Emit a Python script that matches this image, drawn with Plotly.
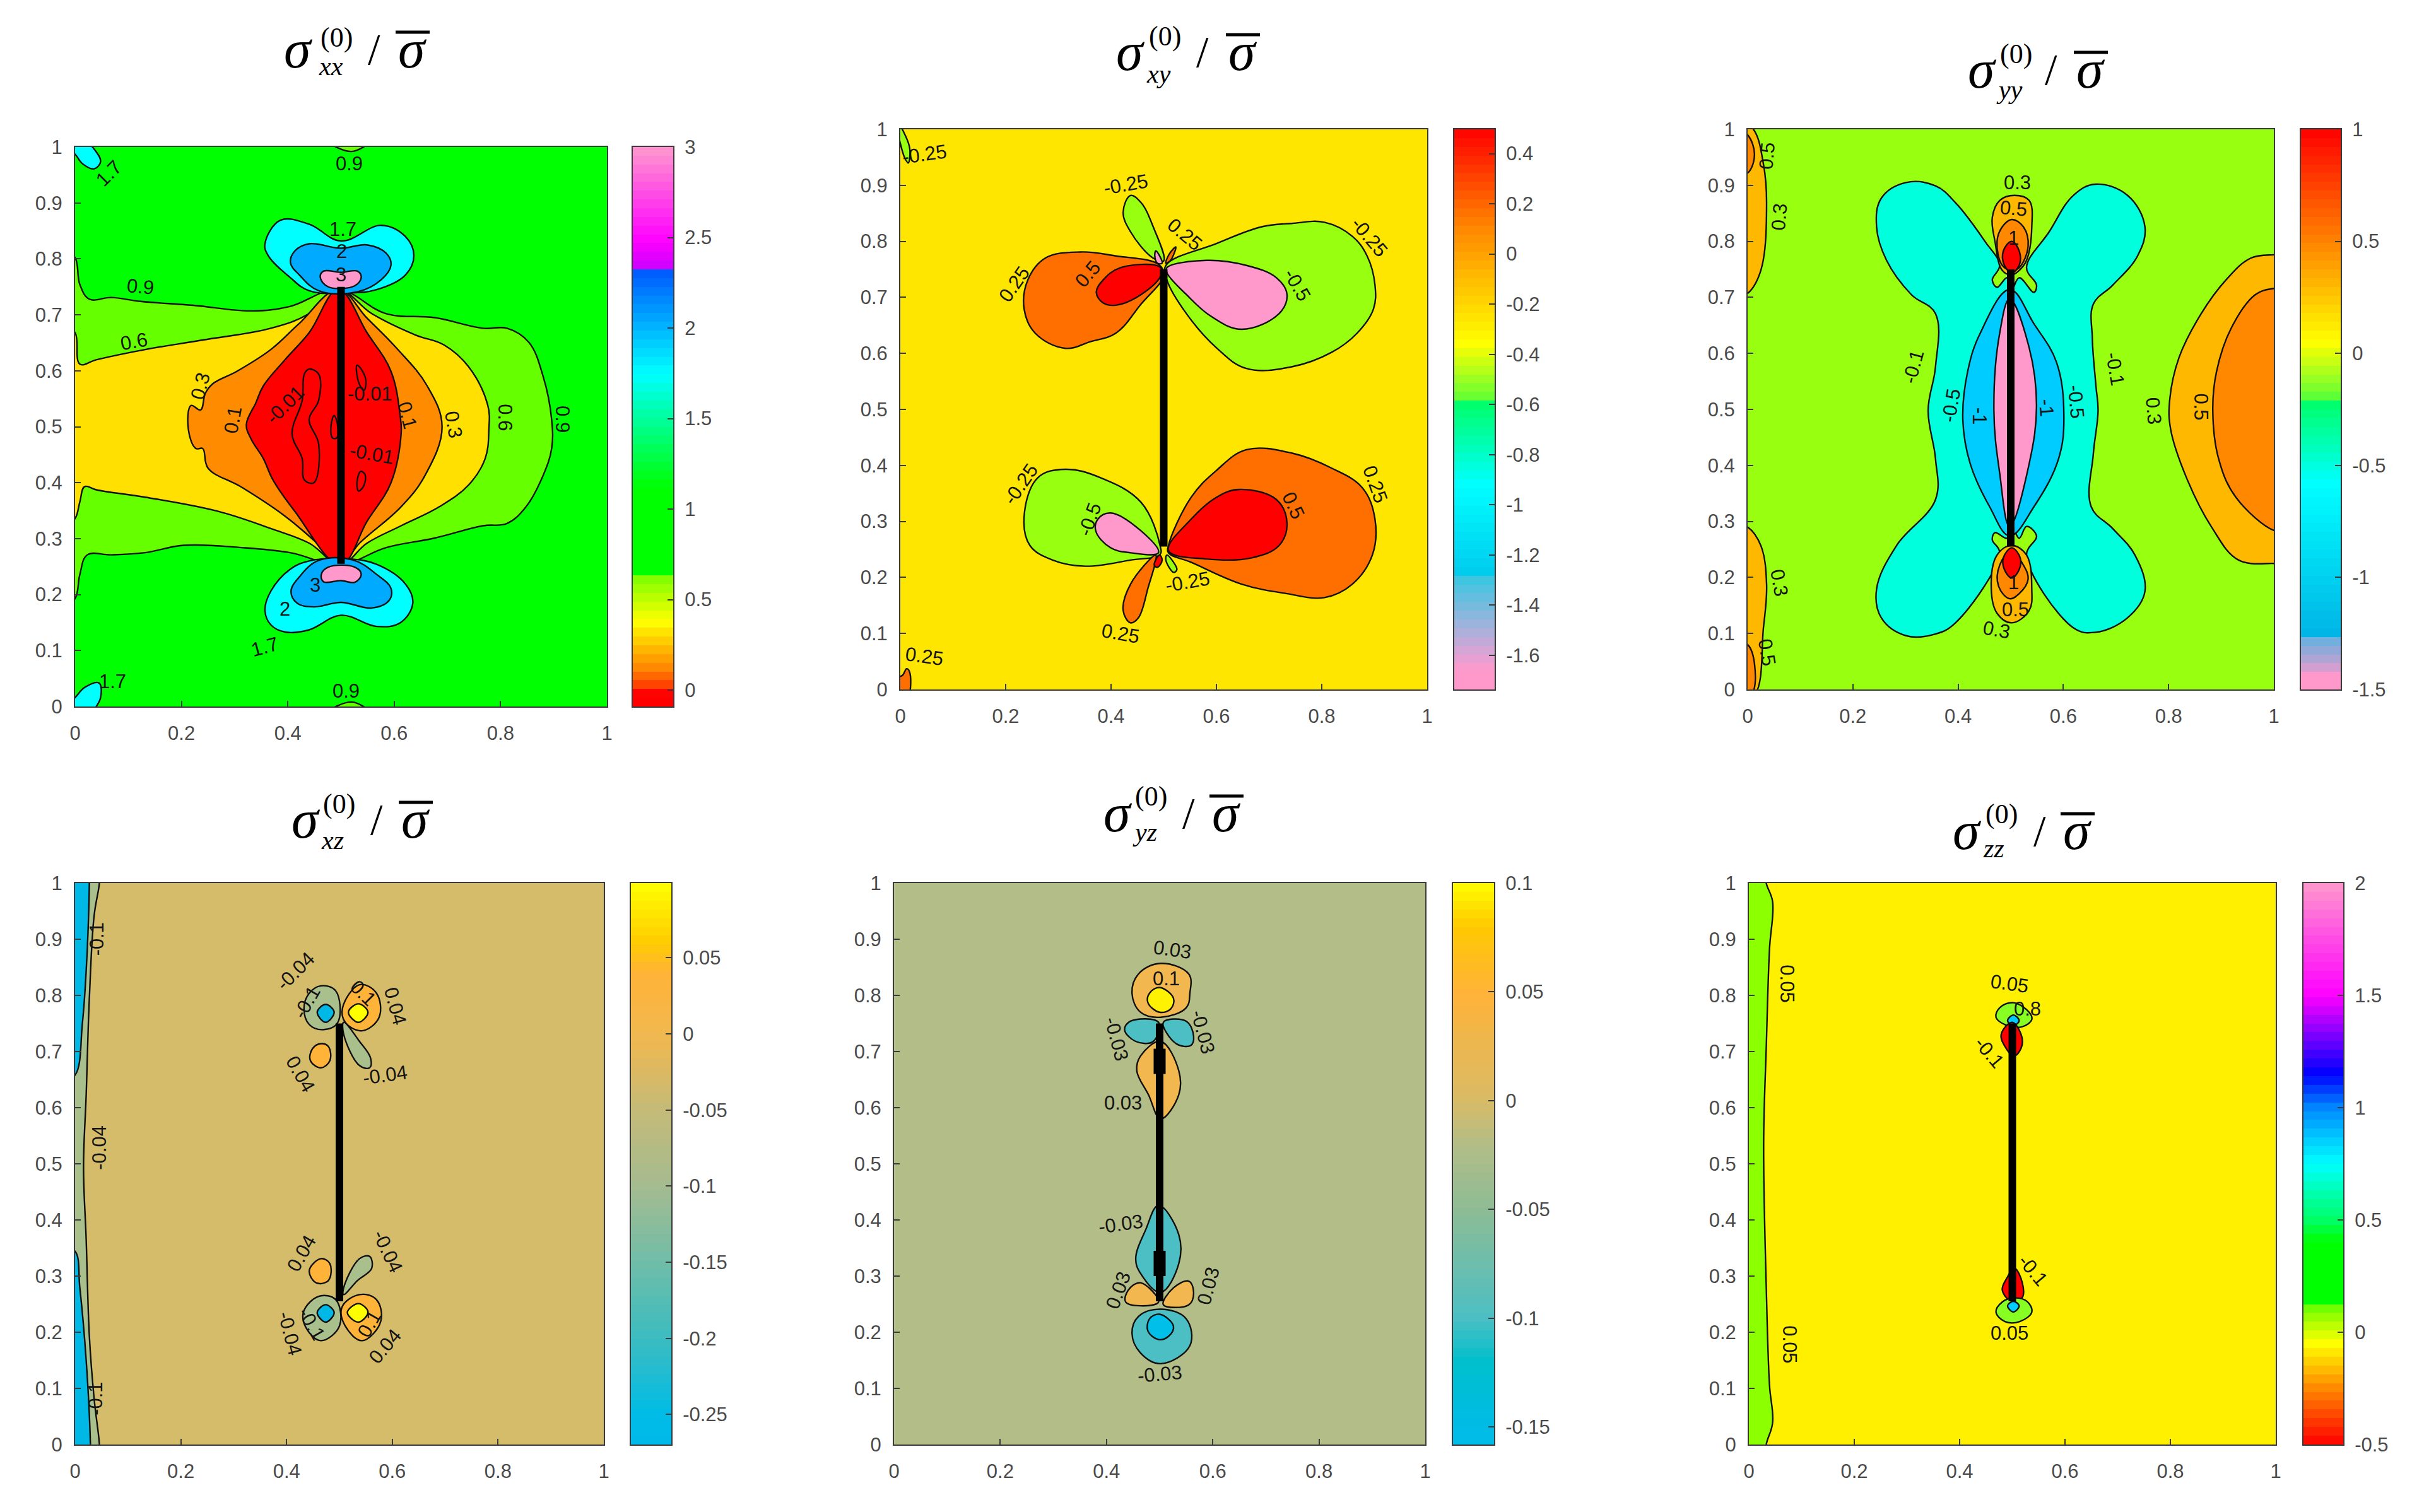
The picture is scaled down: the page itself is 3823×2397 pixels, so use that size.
import plotly.graph_objects as go

W, H = 3823, 2397
BOX = [(-0.02, -0.02), (1.02, -0.02), (1.02, 1.02), (-0.02, 1.02), (-0.02, -0.02)]

# ---------- panel 1: sigma_xx ----------
P1_LIME = [(-.02,.815),(0,.802),(.009,.754),(.027,.728),(.068,.731),(.123,.724),(.222,.717),(.331,.707),(.404,.715),(.495,.745),(.585,.702),(.676,.695),(.767,.676),(.812,.676),(.853,.651),(.880,.590),(.896,.513),(.896,.461),(.880,.413),(.848,.357),(.812,.327),(.767,.323),(.676,.301),(.585,.284),(.499,.254),(.404,.275),(.313,.284),(.204,.288),(.132,.275),(.068,.271),(.023,.271),(.009,.236),(0,.193),(-.02,.18)]
P1_YELLOW = [(-.02,.68),(0,.668),(.009,.612),(.041,.620),(.132,.638),(.240,.655),(.368,.676),(.440,.702),(.495,.745),(.558,.702),(.640,.664),(.694,.646),(.740,.607),(.776,.538),(.778,.495),(.771,.443),(.740,.396),(.685,.357),(.613,.323),(.549,.292),(.499,.254),(.440,.292),(.368,.318),(.268,.349),(.132,.374),(.041,.387),(.018,.393),(.009,.366),(0,.336),(-.02,.32)]
P1_ORANGE = [(.495,.745),(.422,.685),(.368,.638),(.304,.599),(.259,.577),(.245,.560),(.236,.530),(.218,.538),(.213,.495),(.227,.461),(.240,.461),(.250,.426),(.313,.392),(.395,.340),(.449,.297),(.499,.254),(.535,.292),(.613,.357),(.658,.413),(.690,.500),(.662,.573),(.603,.642),(.549,.694),(.495,.745)]
P1_RED = [(.495,.745),(.440,.668),(.395,.620),(.354,.573),(.340,.543),(.322,.504),(.331,.478),(.354,.443),(.372,.405),(.413,.349),(.499,.254),(.549,.331),(.594,.400),(.613,.487),(.611,.521),(.594,.599),(.549,.668),(.495,.745)]
P1_IN_A = [(.440,.603),(.458,.594),(.458,.547),(.440,.513),(.458,.469),(.449,.400),(.431,.405),(.427,.443),(.408,.487),(.427,.547),(.431,.594),(.440,.603)]
P1_IN_B = [(.530,.61),(.540,.60),(.547,.58),(.543,.565),(.533,.58),(.530,.61)]
P1_IN_C = [(.533,.385),(.543,.395),(.545,.415),(.537,.42),(.530,.40),(.533,.385)]
P1_IN_D = [(.487,.52),(.494,.5),(.492,.48),(.484,.48),(.481,.5),(.487,.52)]
P1_CY_T = [(.386,.869),(.440,.862),(.500,.832),(.576,.860),(.621,.840),(.637,.806),(.621,.771),(.567,.745),(.513,.739),(.440,.743),(.404,.767),(.363,.806),(.357,.827),(.386,.869)]
P1_BL_T = [(.440,.827),(.500,.819),(.549,.825),(.585,.810),(.594,.789),(.576,.763),(.531,.741),(.458,.743),(.422,.771),(.405,.793),(.413,.814),(.440,.827)]
P1_PK_T = [(.467,.778),(.500,.776),(.531,.778),(.538,.767),(.526,.752),(.476,.750),(.461,.767),(.467,.778)]
P1_CY_B = [(.440,.260),(.404,.245),(.368,.206),(.357,.172),(.368,.146),(.395,.133),(.440,.137),(.500,.163),(.567,.143),(.612,.150),(.635,.185),(.621,.219),(.567,.254),(.513,.264),(.440,.260)]
P1_BL_B = [(.458,.261),(.422,.232),(.406,.206),(.417,.185),(.449,.178),(.500,.186),(.558,.176),(.590,.189),(.594,.211),(.567,.236),(.522,.262),(.458,.261)]
P1_PK_B = [(.476,.249),(.463,.236),(.467,.223),(.500,.225),(.526,.222),(.538,.236),(.526,.249),(.476,.249)]
P1_CORNER_T = [(-.02,1.02),(.009,1.02),(.036,.996),(.048,.974),(.036,.961),(.014,.970),(0,.987),(-.02,1.0),(-.02,1.02)]
P1_CORNER_B = [(-.02,.0),(0,.016),(.018,.034),(.045,.042),(.048,.016),(.036,-.005),(.02,-.02),(-.02,-.02),(-.02,.0)]
P1_LENS_T = [(.476,1.01),(.52,.992),(.553,1.01),(.476,1.01)]
P1_LENS_B = [(.476,-.01),(.52,.008),(.553,-.01),(.476,-.01)]
P1_REGIONS = [(P1_LIME,"#66ff00"),(P1_YELLOW,"#ffe000"),(P1_ORANGE,"#ff8c00"),(P1_RED,"#ff0000"),(P1_IN_A,"#ff0000"),(P1_IN_B,"#ff0000"),(P1_IN_C,"#ff0000"),(P1_IN_D,"#ff0000"),
              (P1_CY_T,"#00ffff"),(P1_BL_T,"#00aaff"),(P1_PK_T,"#ff99cc"),(P1_CY_B,"#00ffff"),(P1_BL_B,"#00aaff"),(P1_PK_B,"#ff99cc"),(P1_CORNER_T,"#00ffff"),(P1_CORNER_B,"#00ffff"),(P1_LENS_T,"#66ff00"),(P1_LENS_B,"#66ff00")]
P1_LABELS = [("1.7",.064,.953,-45),("0.9",.515,.970,0),("1.7",.504,.853,0),("2",.501,.813,0),("3",.500,.772,0),("0.9",.123,.750,5),("0.6",.111,.652,-10),("0.3",.236,.573,-75),("0.1",.297,.512,-80),("-0.01",.395,.540,-45),("-0.01",.555,.559,0),("-0.01",.558,.452,10),("0.1",.624,.521,75),("0.3",.711,.504,80),("0.6",.808,.517,90),("0.9",.917,.514,90),("3",.451,.217,0),("2",.395,.174,0),("1.7",.357,.107,-15),("1.7",.070,.044,0),("0.9",.510,.028,0)]

# ---------- panel 2: sigma_xy ----------
P2_LIME_R = [(.504,.757),(.600,.796),(.686,.826),(.743,.832),(.805,.834),(.858,.809),(.886,.774),(.901,.722),(.898,.679),(.867,.636),(.819,.602),(.743,.576),(.657,.573),(.600,.610),(.543,.671),(.506,.731),(.504,.757)]
P2_PINK_R = [(.506,.753),(.581,.766),(.657,.757),(.714,.735),(.734,.705),(.719,.671),(.648,.643),(.590,.666),(.543,.705),(.506,.744),(.506,.753)]
P2_OR_L = [(.490,.759),(.409,.774),(.342,.781),(.275,.770),(.242,.731),(.235,.679),(.256,.636),(.313,.609),(.361,.621),(.409,.636),(.457,.688),(.500,.740),(.490,.759)]
P2_RED_L = [(.493,.754),(.418,.753),(.385,.731),(.372,.709),(.385,.690),(.409,.686),(.457,.705),(.495,.740),(.493,.754)]
P2_LOBE_T = [(.437,.882),(.457,.869),(.480,.826),(.500,.765),(.480,.770),(.437,.817),(.423,.852),(.437,.882)]
P2_TINY_P = [(.485,.783),(.497,.761),(.488,.761),(.483,.774),(.485,.783)]
P2_TINY_O = [(.523,.790),(.513,.766),(.504,.761),(.511,.778),(.523,.790)]
P2_OR_R = [(.509,.257),(.552,.343),(.600,.391),(.657,.428),(.743,.422),(.819,.395),(.877,.360),(.901,.304),(.896,.240),(.858,.188),(.805,.164),(.734,.171),(.648,.188),(.552,.227),(.509,.244),(.509,.257)]
P2_RED_R = [(.509,.248),(.552,.304),(.600,.343),(.643,.357),(.714,.339),(.734,.296),(.719,.257),(.667,.235),(.581,.233),(.509,.248)]
P2_LIME_L = [(.493,.257),(.457,.334),(.380,.378),(.313,.393),(.261,.378),(.235,.309),(.246,.257),(.289,.231),(.351,.220),(.437,.231),(.493,.241),(.493,.257)]
P2_PINK_L = [(.490,.244),(.457,.283),(.399,.315),(.375,.304),(.371,.283),(.399,.253),(.437,.244),(.490,.244)]
P2_LOBE_B = [(.485,.231),(.471,.184),(.452,.128),(.437,.119),(.423,.141),(.437,.188),(.485,.240),(.485,.231)]
P2_TINY_R = [(.492,.240),(.497,.231),(.488,.218),(.482,.222),(.492,.240)]
P2_TINY_L = [(.506,.240),(.525,.214),(.519,.209),(.504,.231),(.506,.240)]
P2_CORNER_T = [(-.01,1.02),(.009,.99),(.018,.965),(.015,.94),(.008,.95),(0,.975),(-.01,1.02)]
P2_CORNER_B = [(-.01,-.02),(.012,-.02),(.018,.03),(.012,.037),(.004,.025),(-.01,.02),(-.01,-.02)]
P2_REGIONS = [(P2_LIME_R,"#99ff11"),(P2_PINK_R,"#ff99cc"),(P2_OR_L,"#ff6f00"),(P2_RED_L,"#ff0000"),(P2_LOBE_T,"#99ff11"),(P2_TINY_P,"#ff99cc"),(P2_TINY_O,"#ff6f00"),
              (P2_OR_R,"#ff6f00"),(P2_RED_R,"#ff0000"),(P2_LIME_L,"#99ff11"),(P2_PINK_L,"#ff99cc"),(P2_LOBE_B,"#ff6f00"),(P2_TINY_R,"#ff0000"),(P2_TINY_L,"#99ff11"),(P2_CORNER_T,"#99ff11"),(P2_CORNER_B,"#ff6f00")]
P2_LABELS = [("-0.25",.046,.955,-8),("-0.25",.428,.902,-10),("0.25",.540,.813,40),("-0.25",.891,.807,50),("0.25",.216,.724,-55),("0.5",.356,.741,-50),("-0.5",.753,.722,60),("-0.25",.229,.366,-55),("-0.5",.359,.304,-70),("0.25",.901,.366,70),("0.5",.746,.328,65),("-0.25",.545,.192,-10),("0.25",.418,.100,10),("0.25",.046,.059,8)]

# ---------- panel 3: sigma_yy ----------
P3_OR_R = [(1.02,.776),(1,.776),(.956,.770),(.909,.731),(.862,.671),(.820,.593),(.802,.516),(.804,.464),(.834,.378),(.881,.291),(.933,.231),(1,.225),(1.02,.225),(1.02,.776)]
P3_DK_R = [(1.02,.716),(1,.716),(.965,.705),(.919,.645),(.891,.567),(.884,.498),(.895,.412),(.928,.343),(1,.284),(1.02,.284),(1.02,.716)]
P3_OR_TL = [(-.02,1.02),(.011,1.0),(.030,.938),(.036,.869),(.025,.748),(0,.707),(-.02,.70),(-.02,1.02)]
P3_DK_TL = [(-.02,1.0),(0,.99),(.013,.955),(0,.922),(-.02,.92),(-.02,1.0)]
P3_OR_BL = [(-.02,.295),(0,.290),(.025,.257),(.036,.188),(.030,.110),(.013,-.01),(-.02,-.02),(-.02,.295)]
P3_DK_BL = [(-.02,.085),(0,.080),(.013,.046),(.007,-.01),(-.02,-.02),(-.02,.085)]
P3_WING = [(.301,.905),(.357,.899),(.395,.869),(.451,.800),(.479,.757),(.465,.731),(.474,.718),(.493,.735),(.502,.714),(.516,.735),(.544,.709),(.549,.722),(.530,.753),(.573,.817),(.619,.882),(.661,.902),(.722,.882),(.755,.826),(.741,.774),(.694,.722),(.657,.688),(.655,.628),(.662,.541),(.666,.498),(.657,.421),(.653,.326),(.694,.287),(.736,.240),(.755,.175),(.722,.128),(.661,.102),(.619,.110),(.530,.240),(.549,.274),(.530,.291),(.516,.270),(.502,.291),(.493,.270),(.470,.280),(.465,.267),(.479,.244),(.395,.119),(.357,.099),(.301,.096),(.254,.128),(.245,.179),(.283,.257),(.357,.339),(.357,.412),(.343,.498),(.357,.576),(.357,.671),(.311,.705),(.264,.766),(.245,.826),(.254,.877),(.301,.905)]
P3_BLUE = [(.498,.714),(.442,.636),(.418,.567),(.409,.481),(.423,.403),(.460,.326),(.498,.274),(.544,.326),(.591,.412),(.601,.490),(.587,.584),(.544,.653),(.498,.714)]
P3_PINK = [(.498,.697),(.479,.636),(.468,.498),(.479,.386),(.498,.291),(.535,.403),(.549,.507),(.535,.610),(.498,.697)]
P3_T_OR = [(.507,.882),(.535,.873),(.540,.826),(.530,.766),(.516,.748),(.502,.740),(.484,.748),(.470,.800),(.465,.843),(.479,.873),(.507,.882)]
P3_T_DK = [(.502,.839),(.524,.826),(.533,.791),(.516,.753),(.502,.748),(.484,.757),(.474,.800),(.484,.826),(.502,.839)]
P3_T_RED = [(.502,.800),(.516,.783),(.516,.757),(.502,.744),(.488,.757),(.486,.783),(.502,.800)]
P3_B_OR = [(.502,.257),(.530,.240),(.540,.179),(.535,.141),(.502,.119),(.474,.136),(.463,.179),(.474,.240),(.502,.257)]
P3_B_DK = [(.502,.248),(.521,.227),(.533,.197),(.516,.171),(.498,.162),(.477,.184),(.479,.222),(.502,.248)]
P3_B_RED = [(.502,.253),(.518,.235),(.516,.214),(.502,.199),(.488,.214),(.486,.235),(.502,.253)]
P3_REGIONS = [(P3_OR_R,"#ffb800"),(P3_DK_R,"#ff8800"),(P3_OR_TL,"#ffb800"),(P3_DK_TL,"#ff8800"),(P3_OR_BL,"#ffb800"),(P3_DK_BL,"#ff8800"),(P3_WING,"#00ffdd"),(P3_BLUE,"#00ccff"),(P3_PINK,"#ff99cc"),
              (P3_T_OR,"#ffb800"),(P3_T_DK,"#ff8800"),(P3_T_RED,"#ff0000"),(P3_B_OR,"#ffb800"),(P3_B_DK,"#ff8800"),(P3_B_RED,"#ff0000")]
P3_LABELS = [("0.5",.037,.953,-85),("0.3",.060,.843,-85),("0.3",.512,.905,0),("0.5",.505,.859,5),("1",.505,.806,0),("-0.1",.315,.576,-75),("-0.5",.387,.507,-80),("-1",.440,.488,90),("-1",.568,.503,85),("-0.5",.624,.514,85),("-0.1",.699,.572,80),("0.3",.771,.498,85),("0.5",.861,.505,90),("0.3",.060,.191,80),("0.5",.037,.066,80),("1",.505,.191,0),("0.5",.509,.143,0),("0.3",.473,.106,10)]

# ---------- panel 4: sigma_xz ----------
P4_STRIP = [(.046,1.02),(.046,1),(.036,.942),(.027,.795),(.021,.623),(.016,.494),(.021,.365),(.027,.193),(.036,.082),(.046,0),(.046,-.02),(-.02,-.02),(-.02,1.02),(.046,1.02)]
P4_BLUE_T = [(.027,1.02),(.027,1),(.023,.881),(.014,.752),(0,.658),(-.02,.65),(-.02,1.02),(.027,1.02)]
P4_BLUE_B = [(-.02,.35),(0,.344),(.009,.279),(.021,.150),(.029,0),(.029,-.02),(-.02,-.02),(-.02,.35)]
P4_G1 = [(.465,.817),(.493,.808),(.497,.752),(.470,.739),(.443,.748),(.433,.778),(.443,.804),(.465,.817)]
P4_B1 = [(.474,.784),(.490,.770),(.474,.752),(.458,.770),(.474,.784)]
P4_O1 = [(.538,.819),(.570,.804),(.575,.761),(.543,.737),(.511,.752),(.506,.778),(.538,.819)]
P4_Y1 = [(.536,.785),(.554,.770),(.536,.752),(.517,.770),(.536,.785)]
P4_O2 = [(.465,.714),(.479,.709),(.482,.684),(.465,.671),(.445,.684),(.449,.705),(.465,.714)]
P4_G2 = [(.508,.752),(.538,.718),(.559,.688),(.557,.671),(.538,.675),(.508,.731),(.508,.752)]
P4_O3 = [(.465,.331),(.482,.322),(.479,.292),(.456,.288),(.443,.310),(.465,.331)]
P4_G3 = [(.508,.279),(.538,.331),(.557,.335),(.561,.314),(.534,.292),(.508,.267),(.508,.279)]
P4_G4 = [(.461,.264),(.493,.258),(.500,.211),(.465,.185),(.438,.206),(.432,.236),(.461,.264)]
P4_B4 = [(.474,.249),(.490,.235),(.474,.218),(.458,.235),(.474,.249)]
P4_O4 = [(.538,.267),(.570,.258),(.578,.219),(.543,.185),(.511,.211),(.505,.245),(.538,.267)]
P4_Y4 = [(.536,.251),(.554,.236),(.536,.218),(.515,.235),(.536,.251)]
P4_REGIONS = [(P4_STRIP,"#a9bf8c"),(P4_BLUE_T,"#00b8e6"),(P4_BLUE_B,"#00b8e6"),(P4_G1,"#a9bf8c"),(P4_B1,"#00b8e6"),(P4_O1,"#ffb338"),(P4_Y1,"#ffff00"),(P4_O2,"#ffb338"),(P4_G2,"#a9bf8c"),(P4_O3,"#ffb338"),(P4_G3,"#a9bf8c"),(P4_G4,"#a9bf8c"),(P4_B4,"#00b8e6"),(P4_O4,"#ffb338"),(P4_Y4,"#ffff00")]
P4_LABELS = [("-0.1",.041,.900,-90),("-0.04",.046,.529,-90),("-0.1",.038,.082,-90),("-0.04",.417,.843,-45),("-0.1",.438,.787,-60),("0.1",.545,.804,45),("0.04",.605,.781,75),("0.04",.426,.660,60),("-0.04",.586,.658,-8),("0.04",.428,.340,-60),("-0.04",.591,.344,65),("-0.1",.447,.215,60),("0.1",.557,.215,-60),("-0.04",.406,.198,75),("0.04",.586,.175,-50)]

# ---------- panel 5: sigma_yz ----------
P5_O_T = [(.502,.857),(.555,.838),(.557,.804),(.550,.778),(.502,.761),(.464,.770),(.448,.804),(.460,.838),(.502,.857)]
P5_Y_T = [(.500,.814),(.526,.795),(.521,.776),(.500,.770),(.478,.787),(.481,.804),(.500,.814)]
P5_T_L = [(.498,.752),(.488,.718),(.455,.718),(.434,.739),(.445,.754),(.498,.752)]
P5_T_R = [(.507,.752),(.550,.754),(.564,.727),(.559,.711),(.531,.714),(.507,.752)]
P5_O_LENS = [(.502,.718),(.536,.666),(.536,.623),(.502,.580),(.479,.623),(.457,.666),(.464,.692),(.502,.718)]
P5_T_LENS = [(.498,.426),(.536,.374),(.536,.322),(.502,.271),(.464,.305),(.455,.331),(.474,.383),(.498,.426)]
P5_O_L = [(.464,.288),(.498,.254),(.464,.247),(.436,.254),(.441,.275),(.464,.288)]
P5_O_R = [(.555,.291),(.564,.271),(.555,.249),(.507,.249),(.526,.279),(.555,.291)]
P5_T_B = [(.502,.241),(.550,.224),(.557,.176),(.502,.144),(.464,.163),(.448,.198),(.460,.228),(.502,.241)]
P5_B_B = [(.500,.232),(.526,.211),(.517,.193),(.498,.187),(.478,.202),(.481,.224),(.500,.232)]
P5_REGIONS = [(P5_O_T,"#f2b74e"),(P5_Y_T,"#fff200"),(P5_T_L,"#4cbfc4"),(P5_T_R,"#4cbfc4"),(P5_O_LENS,"#f2b74e"),(P5_T_LENS,"#4cbfc4"),(P5_O_L,"#f2b74e"),(P5_O_R,"#f2b74e"),(P5_T_B,"#4cbfc4"),(P5_B_B,"#00bfe8")]
P5_LABELS = [("0.03",.524,.881,8),("0.1",.512,.830,0),("-0.03",.419,.722,75),("-0.03",.581,.735,75),("0.03",.431,.608,0),("-0.03",.427,.393,-8),("0.03",.422,.275,-70),("0.03",.591,.282,-75),("-0.03",.500,.125,-5)]
P5_KNOT_UP = [.66,.705]
P5_KNOT_LO = [.30,.345]

# ---------- panel 6: sigma_zz ----------
P6_STRIP = [(.033,1.02),(.033,1),(.045,.967),(.039,.881),(.033,.709),(.028,.537),(.033,.279),(.039,.107),(.045,.039),(.033,0),(.033,-.02),(-.02,-.02),(-.02,1.02),(.033,1.02)]
P6_G_T = [(.502,.787),(.532,.770),(.537,.757),(.518,.744),(.486,.748),(.469,.761),(.476,.778),(.502,.787)]
P6_C_T = [(.502,.765),(.513,.755),(.502,.746),(.491,.755),(.502,.765)]
P6_R_T = [(.500,.752),(.519,.722),(.514,.701),(.503,.692),(.486,.709),(.479,.731),(.500,.752)]
P6_R_B = [(.504,.314),(.519,.288),(.519,.262),(.500,.254),(.481,.275),(.490,.297),(.504,.314)]
P6_G_B = [(.502,.261),(.528,.255),(.537,.236),(.514,.219),(.486,.219),(.469,.236),(.481,.254),(.502,.261)]
P6_C_B = [(.502,.255),(.513,.247),(.502,.236),(.491,.247),(.502,.255)]
P6_REGIONS = [(P6_STRIP,"#8cff00"),(P6_G_T,"#88ff22"),(P6_C_T,"#00ccff"),(P6_R_T,"#ff0000"),(P6_R_B,"#ff0000"),(P6_G_B,"#88ff22"),(P6_C_B,"#00ccff")]
P6_LABELS = [("0.05",.073,.821,90),("0.05",.077,.178,90),("0.05",.495,.821,8),("0.8",.529,.776,0),("-0.1",.456,.698,50),("-0.1",.539,.311,50),("0.05",.495,.198,0)]

# ---------- colour bars: value, colour stops ----------
CB1_STOPS = [(-.09,"#ff0000"),(-.02,"#ff0000"),(.03,"#ff4400"),(.126,"#ff8800"),(.378,"#ffff00"),(.609,"#88ff00"),(.651,"#00ff00"),(1.113,"#00ff00"),(1.744,"#00ffff"),(2.33,"#0055ff"),(2.335,"#cc00ff"),(2.48,"#ff00ff"),(3,"#ff99cc")]
CB2_STOPS = [(-1.736,"#ff99cc"),(-1.66,"#ff99cc"),(-1.5,"#aab0dd"),(-1.28,"#33c8e0"),(-1.27,"#00ccee"),(-.92,"#00ffff"),(-.59,"#00ff66"),(-.574,"#66ff33"),(-.357,"#ffff00"),(.1,"#ff8800"),(.497,"#ff0000")]
CB3_STOPS = [(-1.5,"#ff99cc"),(-1.42,"#ff99cc"),(-1.4,"#cca0d0"),(-1.27,"#66b0e0"),(-1.26,"#00b4e6"),(-.58,"#00ffff"),(-.21,"#00ff66"),(-.19,"#66ff33"),(.05,"#ffff00"),(.48,"#ff8800"),(1,"#ff0000")]
CB4_STOPS = [(-.2697,"#00b8e8"),(-.25,"#00bce6"),(-.2,"#3cbcc0"),(-.15,"#70bda8"),(-.1,"#a5bb90"),(-.05,"#c4bb78"),(0,"#f2b84e"),(.04,"#ffb338"),(.06,"#ffcc00"),(.099,"#ffff00")]
CB5_STOPS = [(-.158,"#00bce6"),(-.15,"#00bce6"),(-.12,"#00bfcc"),(-.1,"#4cbfc4"),(-.05,"#8ebc95"),(-.02,"#b3bd87"),(0,"#d9bb66"),(.05,"#ffb338"),(.08,"#ffc800"),(.1,"#ffff00")]
CB6_STOPS = [(-.5,"#ff0000"),(-.25,"#ff8800"),(-.05,"#ffff00"),(.05,"#aaff00"),(.115,"#66ff00"),(.13,"#00ff00"),(.4,"#00ff00"),(.5,"#00ff66"),(.75,"#00ffff"),(1.0,"#0088ff"),(1.15,"#0000ff"),(1.5,"#ff00ff"),(2,"#ff99cc")]
CB1_TICKS = [0,.5,1,1.5,2,2.5,3]
CB2_TICKS = [.4,.2,0,-.2,-.4,-.6,-.8,-1,-1.2,-1.4,-1.6]
CB3_TICKS = [1,.5,0,-.5,-1,-1.5]
CB4_TICKS = [.05,0,-.05,-.1,-.15,-.2,-.25]
CB5_TICKS = [.1,.05,0,-.05,-.1,-.15]
CB6_TICKS = [2,1.5,1,.5,0,-.5]

# ---------- tick labels ----------
X_TICKS = [0,.2,.4,.6,.8,1]
Y_TICKS = [0,.1,.2,.3,.4,.5,.6,.7,.8,.9,1]

# ---------- layout in reference pixels ----------
PANELS = [
  dict(r=P1_REGIONS,l=P1_LABELS,bg="#00ff00",box=(119,962,233,1120),cb=(1003,1067),stops=CB1_STOPS,ct=CB1_TICKS,knots=[],
       tt=("xx",(473,78),(533,59),(524,105),(593,78),(654,78))),
  dict(r=P2_REGIONS,l=P2_LABELS,bg="#ffe600",box=(1427,2262,205,1093),cb=(2305,2369),stops=CB2_STOPS,ct=CB2_TICKS,knots=[],
       tt=("xy",(1792,82),(1846,58),(1836,117),(1906,82),(1970,82))),
  dict(r=P3_REGIONS,l=P3_LABELS,bg="#99ff11",box=(2770,3604,205,1093),cb=(3647,3710),stops=CB3_STOPS,ct=CB3_TICKS,knots=[],
       tt=("yy",(3142,110),(3195,85),(3185,142),(3251,110),(3314,110))),
  dict(r=P4_REGIONS,l=P4_LABELS,bg="#d4bc6a",box=(119,957,1400,2290),cb=(1000,1064),stops=CB4_STOPS,ct=CB4_TICKS,knots=[],
       tt=("xz",(485,1299),(537,1274),(527,1332),(597,1299),(659,1299))),
  dict(r=P5_REGIONS,l=P5_LABELS,bg="#b3bd87",box=(1417,2259,1400,2290),cb=(2303,2368),stops=CB5_STOPS,ct=CB5_TICKS,knots=[P5_KNOT_UP,P5_KNOT_LO],
       tt=("yz",(1772,1289),(1824,1262),(1814,1319),(1884,1289),(1944,1289))),
  dict(r=P6_REGIONS,l=P6_LABELS,bg="#fff000",box=(2772,3607,1400,2290),cb=(3651,3714),stops=CB6_STOPS,ct=CB6_TICKS,knots=[],
       tt=("zz",(3118,1317),(3172,1291),(3160,1345),(3233,1317),(3293,1317))),
]
CRACK_Y = [.255,.75]
CRACK_X = [.5,.5]
LEVELS = 64

fig = go.Figure()
layout = {}
ann = []
shapes = []
TICK = "#4a4a4a"
LINE = "#3a3a3a"
def fmt(v):
    return f"{v:g}"

def axis(domain, **kw):
    d = dict(domain=domain, showgrid=False, zeroline=False, showline=True, linecolor=LINE, linewidth=2,
             mirror=True, ticks="inside", ticklen=9, tickwidth=2, tickcolor=LINE,
             tickfont=dict(family="Liberation Sans", size=31, color=TICK))
    d.update(kw)
    return d

for i, p in enumerate(PANELS):
    xa, ya = 2*i+1, 2*i+2
    cx, cy = 2*i+13, 2*i+14
    x0, x1, y0, y1 = p["box"]
    xn, yn = f"x{xa}", f"y{ya}"
    xdom = [x0/W, x1/W]
    ydom = [1-y1/H, 1-y0/H]
    layout[f"xaxis{xa}"] = axis(xdom, anchor=yn, range=[0,1], tickvals=X_TICKS, ticktext=[fmt(v) for v in X_TICKS], ticklabelstandoff=14)
    layout[f"yaxis{ya}"] = axis(ydom, anchor=xn, range=[0,1], tickvals=Y_TICKS, ticktext=[fmt(v) for v in Y_TICKS], ticklabelstandoff=12)
    xs, ys = zip(*BOX)
    fig.add_trace(go.Scatter(x=xs, y=ys, mode="lines", fill="toself", fillcolor=p["bg"], line=dict(width=0, color=p["bg"]), xaxis=xn, yaxis=yn, hoverinfo="skip", showlegend=False))
    for pts, col in p["r"]:
        xs, ys = zip(*pts)
        fig.add_trace(go.Scatter(x=xs, y=ys, mode="lines", fill="toself", fillcolor=col,
                                 line=dict(color="#101010", width=2.4, shape="spline", smoothing=1.1),
                                 xaxis=xn, yaxis=yn, hoverinfo="skip", showlegend=False))
    fig.add_trace(go.Scatter(x=CRACK_X, y=CRACK_Y, mode="lines", line=dict(color="#000000", width=12), xaxis=xn, yaxis=yn, hoverinfo="skip", showlegend=False))
    for knot in p["knots"]:
        fig.add_trace(go.Scatter(x=CRACK_X, y=knot, mode="lines", line=dict(color="#000000", width=19), xaxis=xn, yaxis=yn, hoverinfo="skip", showlegend=False))
    for txt, lx, ly, rot in p["l"]:
        ann.append(dict(text=txt, x=lx, y=ly, xref=xn, yref=yn, showarrow=False, textangle=rot,
                        font=dict(family="Liberation Sans", size=31, color="#141414")))
    # colour bar
    vals, cols = zip(*p["stops"])
    lo, hi = vals[0], vals[-1]
    scale = [[(v-lo)/(hi-lo), c] for v, c in p["stops"]]
    lv = [lo+(hi-lo)*(k+.5)/LEVELS for k in range(LEVELS)]
    fig.add_trace(go.Heatmap(x=[0], y=lv, z=[[v] for v in lv], zmin=lo, zmax=hi, colorscale=scale, showscale=False,
                             xaxis=f"x{cx}", yaxis=f"y{cy}", hoverinfo="skip"))
    c0, c1 = p["cb"]
    layout[f"xaxis{cx}"] = axis([c0/W, c1/W], anchor=f"y{cy}", range=[-.5,.5], showticklabels=False, ticks="")
    layout[f"yaxis{cy}"] = axis(ydom, anchor=f"x{cx}", side="right", range=[lo,hi], tickvals=p["ct"], ticktext=[fmt(v) for v in p["ct"]], ticklabelstandoff=10)
    # title
    sub, s, z, q, sl, b = p["tt"]
    def t(text, pos, size, italic=False):
        ann.append(dict(text=(f"<i>{text}</i>" if italic else text), x=pos[0]/W, y=1-pos[1]/H, xref="paper", yref="paper", showarrow=False,
                        xanchor="center", yanchor="middle", font=dict(family="Liberation Serif", size=size, color="#000000")))
    t("σ", s, 86, True)
    t("(0)", z, 44)
    t(sub, q, 42, True)
    t("/", sl, 70)
    t("σ", b, 86, True)
    shapes.append(dict(type="line", xref="paper", yref="paper", x0=(b[0]-27)/W, x1=(b[0]+27)/W, y0=1-(b[1]-27)/H, y1=1-(b[1]-27)/H, line=dict(color="#000000", width=5)))

fig.update_layout(width=W, height=H, margin=dict(l=0,r=0,t=0,b=0,autoexpand=False), paper_bgcolor="white", plot_bgcolor="white", showlegend=False, annotations=ann, shapes=shapes, **layout)
fig.write_html("out.html", config={"displayModeBar": False}, post_script="document.body.style.margin='0';")
